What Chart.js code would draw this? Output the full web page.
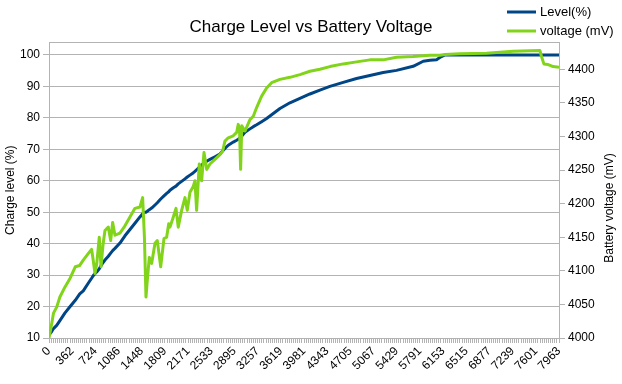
<!DOCTYPE html>
<html><head><meta charset="utf-8">
<script src="https://cdn.jsdelivr.net/npm/chart.js@4.4.1/dist/chart.umd.min.js"></script>
<style>html,body{margin:0;padding:0;background:#fff}#wrap{width:622px;height:384px}</style>
</head><body><div id="wrap"><canvas id="c" width="622" height="384"></canvas></div>
<script>
// ---- data ----
const timeSec = [0,40,70,120,170,250,330,410,480,535,615,665,690,718,745,785,812,845,874,926,963,994,1030,1108,1186,1264,1342,1420,1462,1490,1514,1535,1566,1603,1655,1691,1744,1795,1837,1869,1889,1941,1983,2018,2071,2123,2159,2201,2250,2279,2305,2346,2383,2420,2462,2513,2591,2669,2711,2747,2799,2877,2930,2955,2975,2992,3010,3060,3138,3190,3242,3320,3398,3476,3606,3762,3918,4074,4230,4386,4594,4802,5010,5218,5426,5686,5843,5947,6051,6103,6182,6416,6833,7248,7664,7690,7727,7794,7872,7963];
const levelPct = [11,12,13,14,15.5,18,20,22,24,25,27.5,29,29.8,30.5,31,32,33,34,34.8,36,37,37.8,38.5,40.2,42.5,44.5,46.5,48.5,49.5,50,50,50.3,50.8,51.3,52.3,53,54.2,55.2,56,56.5,57,57.8,58.3,59,59.8,60.6,61.2,61.8,62.5,63,63.5,64.3,65,65.6,66.2,66.8,67.6,68.5,69.5,70.3,71.3,72.3,72.9,73.2,73.5,73.8,74.2,75.4,76.5,77.2,77.8,78.8,79.8,81,83,84.8,86.2,87.6,88.8,90,91.3,92.5,93.5,94.4,95.1,96.4,98,98.3,98.5,99.2,100,100,100,100,100,100,100,100,100,100];
const voltageMv = [4000,4020,4037,4046,4061,4076,4089,4106,4108,4116,4126,4132,4116,4096,4110,4150,4106,4140,4160,4165,4145,4172,4153,4156,4167,4180,4193,4195,4209,4150,4061,4086,4120,4111,4141,4145,4106,4148,4150,4170,4165,4180,4193,4165,4190,4209,4190,4217,4225,4234,4190,4259,4234,4276,4251,4259,4266,4273,4278,4293,4298,4301,4306,4318,4310,4251,4316,4308,4325,4330,4343,4360,4372,4380,4385,4388,4392,4397,4400,4404,4408,4411,4414,4414,4418,4419,4420,4421,4421,4421,4422,4423,4424,4427,4428,4419,4408,4407,4404,4403];
const xTickLabels = [0,362,724,1086,1448,1809,2171,2533,2895,3257,3619,3981,4343,4705,5067,5429,5791,6153,6515,6877,7239,7601,7963];
const levelTicks = [10,20,30,40,50,60,70,80,90,100];
const voltageTicks = [4000,4050,4100,4150,4200,4250,4300,4350,4400];
const seriesNames = ['Level(%)','voltage (mV)'];
const seriesColors = ['#004586','#81d41a'];

const FONT = "'Liberation Sans', Arial, sans-serif";
const GRID = '#b3b3b3';
const MINOR_PER_LABEL = 11;

const decor = {
  id: 'decor',
  beforeDatasetsDraw(chart) {
    const {ctx, chartArea: a} = chart;
    ctx.save();
    ctx.strokeStyle = GRID; ctx.lineWidth = 1;
    ctx.beginPath(); ctx.moveTo(a.left, Math.round(a.top) + 0.5); ctx.lineTo(a.right, Math.round(a.top) + 0.5); ctx.stroke();
    ctx.restore();
  },
  afterDraw(chart) {
    const {ctx} = chart;
    ctx.save();
    ctx.font = '13px ' + FONT; ctx.fillStyle = '#000'; ctx.textBaseline = 'middle'; ctx.textAlign = 'left';
    const rows = [12, 31];
    chart.data.datasets.forEach((ds, i) => {
      ctx.strokeStyle = ds.borderColor; ctx.lineWidth = 3;
      ctx.beginPath(); ctx.moveTo(507, rows[i]); ctx.lineTo(536, rows[i]); ctx.stroke();
      ctx.fillText(ds.label, 540, rows[i]);
    });
    ctx.font = '12px ' + FONT; ctx.textAlign = 'center';
    ctx.translate(610, 208); ctx.rotate(-Math.PI / 2);
    ctx.fillText('Battery voltage (mV)', 0, 0);
    ctx.restore();
  }
};

new Chart(document.getElementById('c'), {
  type: 'line',
  data: {
    datasets: [
      { label: seriesNames[0], data: timeSec.map((t, i) => ({x: t, y: levelPct[i]})), borderColor: seriesColors[0], backgroundColor: seriesColors[0], borderWidth: 3, pointRadius: 0, yAxisID: 'y', order: 1, borderJoinStyle: 'round' },
      { label: seriesNames[1], data: timeSec.map((t, i) => ({x: t, y: voltageMv[i]})), borderColor: seriesColors[1], backgroundColor: seriesColors[1], borderWidth: 3, pointRadius: 0, yAxisID: 'y1', order: 0, borderJoinStyle: 'round' }
    ]
  },
  options: {
    responsive: false, animation: false, devicePixelRatio: 1,
    layout: { padding: 0 },
    plugins: {
      legend: { display: false }, tooltip: { enabled: false },
      title: { display: true, text: 'Charge Level vs Battery Voltage', color: '#000', font: { family: FONT, size: 17, weight: 'normal' }, padding: { top: 17, bottom: 5 } }
    },
    scales: {
      x: {
        type: 'linear', min: 0, max: xTickLabels[xTickLabels.length - 1],
        afterBuildTicks(s) {
          const n = (xTickLabels.length - 1) * MINOR_PER_LABEL, max = xTickLabels[xTickLabels.length - 1];
          const t = []; for (let i = 0; i <= n; i++) t.push({ value: i * max / n });
          s.ticks = t;
        },
        afterFit(s) { s.height = 46; },
        grid: { drawOnChartArea: false, drawTicks: true, tickLength: 5, color: GRID },
        border: { display: true, color: GRID },
        ticks: { autoSkip: false, maxRotation: 45, minRotation: 45, padding: 1, color: '#000', font: { family: FONT, size: 12 },
          callback: (v, i) => i % MINOR_PER_LABEL === 0 ? String(xTickLabels[i / MINOR_PER_LABEL]) : '' }
      },
      y: {
        position: 'left', min: 10, max: 104,
        afterBuildTicks(s) { s.ticks = levelTicks.map(v => ({ value: v })); },
        afterFit(s) { s.width = 49; },
        grid: { color: GRID, tickLength: 6 },
        border: { display: true, color: GRID },
        ticks: { padding: 3, color: '#000', font: { family: FONT, size: 12 }, callback: v => String(v) },
        title: { display: true, text: 'Charge level (%)', color: '#000', font: { family: FONT, size: 12 }, padding: { top: 3, bottom: 0 } }
      },
      y1: {
        position: 'right', min: 4000, max: 4440,
        afterBuildTicks(s) { s.ticks = voltageTicks.map(v => ({ value: v })); },
        afterFit(s) { s.width = 63; },
        grid: { drawOnChartArea: false, color: GRID, tickLength: 6 },
        border: { display: true, color: GRID },
        ticks: { padding: 3, color: '#000', font: { family: FONT, size: 12 }, callback: v => String(v) }
      }
    }
  },
  plugins: [decor]
});
</script>
</body></html>
